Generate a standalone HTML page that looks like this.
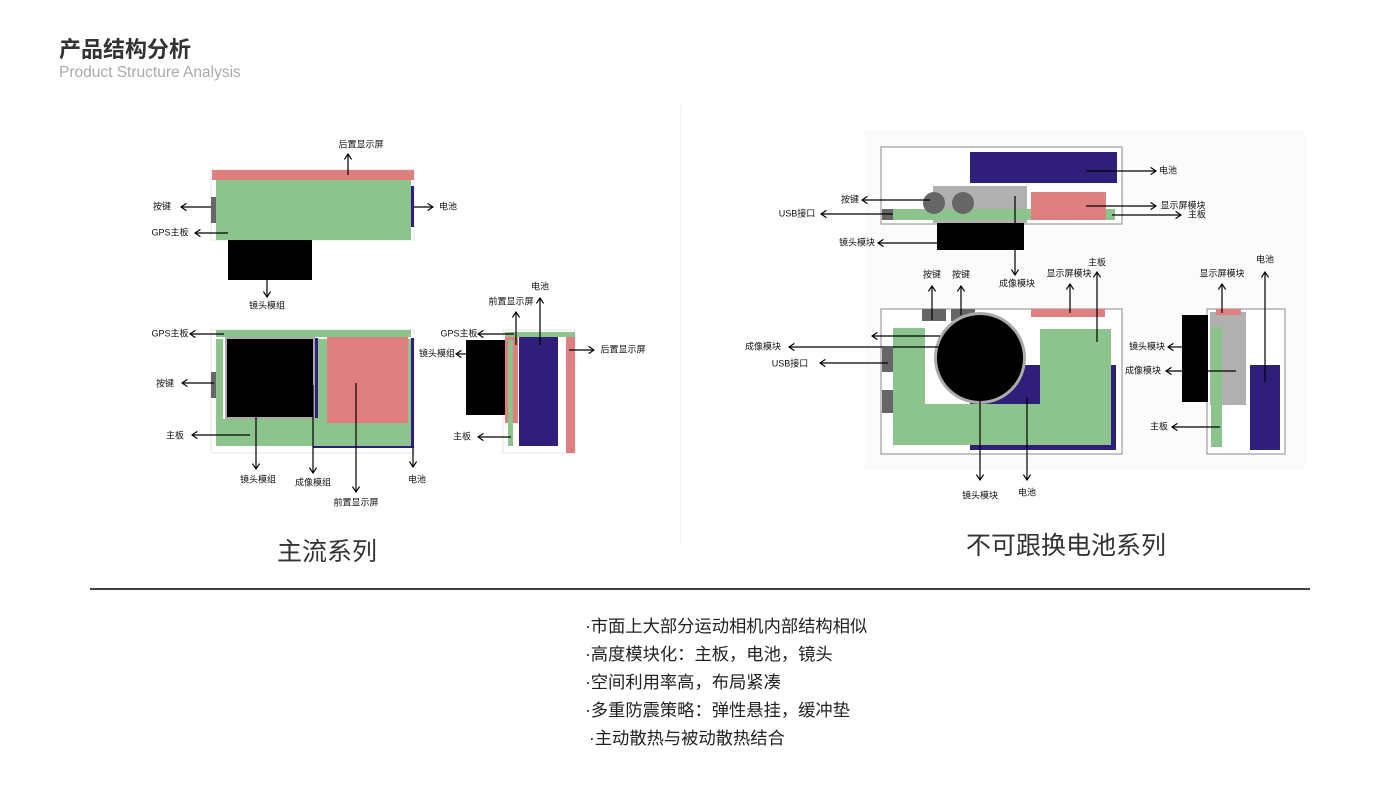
<!DOCTYPE html>
<html><head><meta charset="utf-8"><style>
html,body{margin:0;padding:0;background:#fff;}
svg{display:block;}
text{font-family:"Liberation Sans","Noto Sans CJK SC",sans-serif;}
.s{font-size:9px;fill:#111;}
</style></head><body>
<svg width="1400" height="788" viewBox="0 0 1400 788" xmlns="http://www.w3.org/2000/svg">
<defs>
<marker id="a" viewBox="0 0 10 10" refX="9" refY="5" markerWidth="9" markerHeight="9" orient="auto-start-reverse" markerUnits="userSpaceOnUse">
<path d="M3,1 L9,5 L3,9" fill="none" stroke="#000" stroke-width="1.3"/></marker>
</defs>
<text x="59" y="57" font-size="22" font-weight="bold" fill="#333">产品结构分析</text>
<text x="59" y="77" font-size="15.5" fill="#aaa">Product Structure Analysis</text>
<line x1="681" y1="105" x2="681" y2="545" stroke="#eee" stroke-width="1"/>
<rect x="865" y="130" width="440" height="340" fill="#fbfbfb"/>

<!-- LEFT TOP -->
<rect x="211" y="170" width="203" height="70" fill="#fff" stroke="#e4e4e4"/>
<rect x="216" y="180" width="195" height="60" fill="#8dc48e"/>
<rect x="212" y="170" width="202" height="10" fill="#e07f7f"/>
<rect x="411" y="186" width="3" height="41" fill="#2f1f7a"/>
<rect x="211" y="197" width="5" height="26" fill="#666"/>
<rect x="228" y="240" width="84" height="40" fill="#000"/>
<!-- LEFT BOTTOM -->
<rect x="211" y="330" width="203" height="123" fill="#fff" stroke="#e4e4e4"/>
<rect x="216" y="330" width="195" height="7" fill="#8dc48e"/>
<rect x="216" y="339" width="195" height="107" fill="#8dc48e"/>
<rect x="223" y="339" width="4" height="80" fill="#fff"/>
<rect x="226" y="338" width="88" height="80" fill="#000" stroke="#aaa" stroke-width="2"/>
<rect x="315" y="338" width="3" height="80" fill="#2f1f7a"/>
<rect x="327" y="337" width="81" height="86" fill="#e07f7f"/>
<rect x="411" y="338" width="3" height="110" fill="#2f1f7a"/>
<rect x="313" y="446" width="101" height="2" fill="#2f1f7a"/>
<rect x="211" y="372" width="5" height="26" fill="#666"/>
<!-- LEFT SIDE -->
<rect x="503" y="330" width="72" height="123" fill="#fff" stroke="#e4e4e4"/>
<rect x="505" y="332" width="70" height="5" fill="#8dc48e"/>
<rect x="466" y="340" width="39" height="75" fill="#000"/>
<rect x="505" y="337" width="13" height="86" fill="#e07f7f"/>
<rect x="508" y="340" width="5" height="106" fill="#8dc48e"/>
<rect x="519" y="337" width="39" height="109" fill="#2f1f7a"/>
<rect x="566" y="337" width="9" height="116" fill="#e07f7f"/>

<!-- RIGHT TOP -->
<rect x="881" y="147" width="241" height="77" fill="#fff" stroke="#888"/>
<rect x="970" y="152" width="147" height="31" fill="#2f1f7a"/>
<rect x="933" y="186" width="94" height="37" fill="#b0b0b0"/>
<rect x="893" y="209" width="222" height="11" fill="#8dc48e"/>
<rect x="1031" y="192" width="75" height="28" fill="#e07f7f"/>
<rect x="882" y="209" width="11" height="11" fill="#666"/>
<circle cx="934" cy="203" r="11" fill="#666"/>
<circle cx="963" cy="203" r="11" fill="#666"/>
<rect x="937" y="223" width="87" height="27" fill="#000"/>
<!-- RIGHT FRONT -->
<rect x="881" y="309" width="241" height="145" fill="#fff" stroke="#888"/>
<rect x="970" y="365" width="146" height="85" fill="#2f1f7a"/>
<path d="M893,328 H925 V404 H1040 V329 H1111 V445 H893 Z" fill="#8dc48e"/>
<rect x="922" y="309" width="24" height="12" fill="#666"/>
<rect x="951" y="309" width="24" height="12" fill="#666"/>
<rect x="1031" y="309" width="74" height="8" fill="#e07f7f"/>
<rect x="882" y="348" width="11" height="24" fill="#666"/>
<rect x="882" y="390" width="11" height="23" fill="#666"/>
<circle cx="980" cy="358" r="46" fill="#aaa"/>
<circle cx="980" cy="358" r="43" fill="#000"/>
<!-- RIGHT SIDE -->
<rect x="1207" y="309" width="78" height="145" fill="#fff" stroke="#888"/>
<rect x="1210" y="312" width="36" height="93" fill="#b0b0b0"/>
<rect x="1216" y="309" width="25" height="6" fill="#e07f7f"/>
<rect x="1211" y="327" width="11" height="120" fill="#8dc48e"/>
<rect x="1182" y="315" width="26" height="87" fill="#000"/>
<rect x="1250" y="365" width="30" height="85" fill="#2f1f7a"/>

<g stroke="#000" stroke-width="1.2" fill="none" marker-end="url(#a)">
<line x1="348" y1="175" x2="348" y2="154"/>
<line x1="211" y1="207" x2="181" y2="207"/>
<line x1="228" y1="233" x2="195" y2="233"/>
<line x1="414" y1="207" x2="433" y2="207"/>
<line x1="267" y1="280" x2="267" y2="297"/>
<line x1="224" y1="334" x2="190" y2="334"/>
<line x1="214" y1="383" x2="182" y2="383"/>
<line x1="250" y1="435" x2="192" y2="435"/>
<line x1="256" y1="415" x2="256" y2="469"/>
<line x1="313" y1="385" x2="313" y2="473"/>
<line x1="356" y1="383" x2="356" y2="492"/>
<line x1="413" y1="447" x2="413" y2="467"/>
<line x1="540" y1="345" x2="540" y2="298"/>
<line x1="516" y1="345" x2="516" y2="312"/>
<line x1="514" y1="334" x2="478" y2="334"/>
<line x1="466" y1="354" x2="456" y2="354"/>
<line x1="569" y1="350" x2="594" y2="350"/>
<line x1="511" y1="437" x2="478" y2="437"/>

<line x1="1086" y1="171" x2="1156" y2="171"/>
<line x1="1086" y1="206" x2="1156" y2="206"/>
<line x1="1112" y1="215" x2="1181" y2="215"/>
<line x1="930" y1="200" x2="862" y2="200"/>
<line x1="893" y1="214" x2="821" y2="214"/>
<line x1="937" y1="243" x2="878" y2="243"/>
<line x1="1015" y1="196" x2="1015" y2="275"/>
<line x1="932" y1="320" x2="932" y2="286"/>
<line x1="961" y1="315" x2="961" y2="286"/>
<line x1="1070" y1="313" x2="1070" y2="284"/>
<line x1="1097" y1="342" x2="1097" y2="272"/>
<line x1="940" y1="336" x2="872" y2="336"/>
<line x1="940" y1="347" x2="789" y2="347"/>
<line x1="888" y1="363" x2="820" y2="363"/>
<line x1="980" y1="400" x2="980" y2="480"/>
<line x1="1027" y1="397" x2="1027" y2="480"/>
<line x1="1222" y1="313" x2="1222" y2="284"/>
<line x1="1265" y1="382" x2="1265" y2="272"/>
<line x1="1182" y1="347" x2="1168" y2="347"/>
<line x1="1236" y1="371" x2="1166" y2="371"/>
<line x1="1220" y1="427" x2="1172" y2="427"/>
</g>

<g class="s" dominant-baseline="middle">
<text x="361" y="145" text-anchor="middle">后置显示屏</text>
<text x="162" y="207" text-anchor="middle">按键</text>
<text x="170" y="233" text-anchor="middle">GPS主板</text>
<text x="448" y="207" text-anchor="middle">电池</text>
<text x="267" y="306" text-anchor="middle">镜头模组</text>
<text x="170" y="334" text-anchor="middle">GPS主板</text>
<text x="165" y="384" text-anchor="middle">按键</text>
<text x="175" y="436" text-anchor="middle">主板</text>
<text x="258" y="480" text-anchor="middle">镜头模组</text>
<text x="313" y="483" text-anchor="middle">成像模组</text>
<text x="356" y="503" text-anchor="middle">前置显示屏</text>
<text x="417" y="480" text-anchor="middle">电池</text>
<text x="540" y="287" text-anchor="middle">电池</text>
<text x="511" y="302" text-anchor="middle">前置显示屏</text>
<text x="459" y="334" text-anchor="middle">GPS主板</text>
<text x="437" y="354" text-anchor="middle">镜头模组</text>
<text x="623" y="350" text-anchor="middle">后置显示屏</text>
<text x="462" y="437" text-anchor="middle">主板</text>

<text x="1168" y="171" text-anchor="middle">电池</text>
<text x="1183" y="206" text-anchor="middle">显示屏模块</text>
<text x="1197" y="215" text-anchor="middle">主板</text>
<text x="850" y="200" text-anchor="middle">按键</text>
<text x="797" y="214" text-anchor="middle">USB接口</text>
<text x="857" y="243" text-anchor="middle">镜头模块</text>
<text x="1017" y="284" text-anchor="middle">成像模块</text>
<text x="932" y="275" text-anchor="middle">按键</text>
<text x="961" y="275" text-anchor="middle">按键</text>
<text x="1069" y="274" text-anchor="middle">显示屏模块</text>
<text x="1097" y="263" text-anchor="middle">主板</text>
<text x="763" y="347" text-anchor="middle">成像模块</text>
<text x="790" y="364" text-anchor="middle">USB接口</text>
<text x="980" y="496" text-anchor="middle">镜头模块</text>
<text x="1027" y="493" text-anchor="middle">电池</text>
<text x="1222" y="274" text-anchor="middle">显示屏模块</text>
<text x="1265" y="260" text-anchor="middle">电池</text>
<text x="1147" y="347" text-anchor="middle">镜头模块</text>
<text x="1143" y="371" text-anchor="middle">成像模块</text>
<text x="1159" y="427" text-anchor="middle">主板</text>
</g>

<text x="327" y="560" font-size="25" fill="#333" text-anchor="middle">主流系列</text>
<text x="1066" y="554" font-size="25" fill="#333" text-anchor="middle">不可跟换电池系列</text>
<line x1="90" y1="589" x2="1310" y2="589" stroke="#000" stroke-width="1.5"/>
<g font-size="17.3" fill="#222">
<text x="585" y="632">·市面上大部分运动相机内部结构相似</text>
<text x="585" y="660">·高度模块化：主板，电池，镜头</text>
<text x="585" y="688">·空间利用率高，布局紧凑</text>
<text x="585" y="716">·多重防震策略：弹性悬挂，缓冲垫</text>
<text x="589" y="744">·主动散热与被动散热结合</text>
</g>
</svg>
</body></html>
